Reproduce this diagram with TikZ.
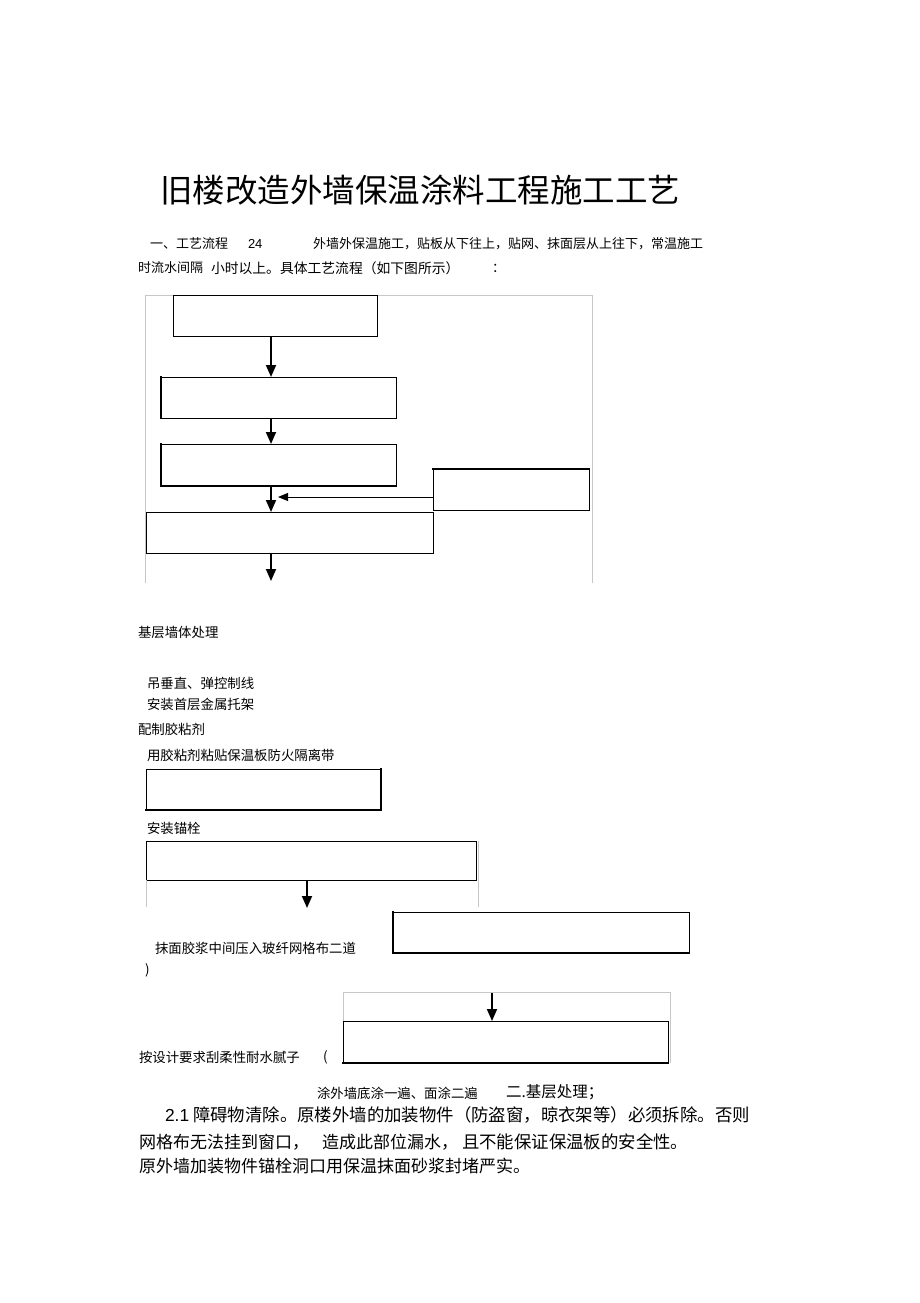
\documentclass[tikz,border=0pt]{standalone}
\usepackage{fontspec}
\setmainfont{Noto Sans CJK SC}
\newfontfamily\arialfont{Liberation Sans}
\usetikzlibrary{arrows.meta}
\newcommand\fsz[1]{\fontsize{#1}{#1}\selectfont}
\begin{document}
\begin{tikzpicture}[x=1pt,y=-1pt,
  box/.style={draw=black,line width=0.9pt,inner sep=0pt,outer sep=0pt,fill=none},
  heavy/.style={line width=2pt,line cap=rect},
  frame/.style={draw=black!22,line width=0.8pt},
  arr/.style={line width=1.8pt,-{Triangle[width=10pt,length=12pt]}},
  txt/.style={anchor=west,inner sep=0pt,outer sep=0pt,font=\fsz{13.4}},
]
\useasboundingbox[fill=white] (0,0) rectangle (920,1303);

% title
\node[anchor=west,inner sep=0pt,font=\fsz{32.5}] (title) at (160,190) {旧楼改造外墙保温涂料工程施工工艺};

% intro lines
\node[txt,font=\fsz{13}] (l1a) at (150,244) {一、工艺流程};
\node[txt,font=\arialfont\fsz{13}] (l1b) at (248,244) {24};
\node[txt,font=\fsz{13}] (l1c) at (313,244) {外墙外保温施工，贴板从下往上，贴网、抹面层从上往下，常温施工};
\node[txt,font=\fsz{13}] (l2a) at (138,268) {时流水间隔};
\node[txt,font=\fsz{13.8}] (l2b) at (211,268) {小时以上。具体工艺流程（如下图所示）};
\node[txt,font=\fsz{13}] (l2c) at (492,268) {：};

% first flowchart frame
\coordinate (f1a) at (145,583);
\coordinate (f1b) at (145,295);
\coordinate (f1c) at (592,295);
\coordinate (f1d) at (592,583);
\draw[frame] (f1a) -- (f1b) -- (f1c) -- (f1d);

\node[box,minimum width=204pt,minimum height=41pt] (b1) at (275,315.5) {};
\node[box,minimum width=235pt,minimum height=41pt] (b2) at (278.5,397.5) {};
\node[box,minimum width=235pt,minimum height=42pt] (b3) at (278.5,465) {};
\node[box,minimum width=156pt,minimum height=41pt] (bs) at (511,489.5) {};
\node[box,minimum width=287pt,minimum height=41pt] (b4) at (289.5,532.5) {};
\draw[heavy] (b2.north west) -- (b2.south west);
\draw[heavy] (b3.north west) -- (b3.south west) -- (b3.south east);
\draw[heavy] (bs.north west) -- (bs.north east);

\coordinate (ax) at (271,0);
\coordinate (sy) at (278,497);
\coordinate (e4) at (271,581);
\draw[arr] (b1.south -| ax) -- (b2.north -| ax);
\draw[arr] (b2.south -| ax) -- (b3.north -| ax);
\draw[arr] (b3.south -| ax) -- (b4.north -| ax);
\draw[line width=1pt,-{Triangle[width=8pt,length=10pt]}] (bs.west |- sy) -- (sy);
\draw[arr] (b4.south -| ax) -- (e4);

% step texts
\node[txt] (t1) at (138,632) {基层墙体处理};
\node[txt] (t2) at (147,683) {吊垂直、弹控制线};
\node[txt] (t3) at (147,704) {安装首层金属托架};
\node[txt] (t4) at (138,729) {配制胶粘剂};
\node[txt] (t5) at (147,755) {用胶粘剂粘贴保温板防火隔离带};

\node[box,minimum width=235pt,minimum height=41pt] (b5) at (263.5,789.5) {};
\draw[heavy] (b5.south west) -- (b5.south east) -- (b5.north east);

\node[txt] (t6) at (147,828) {安装锚栓};

% box 6 with frame
\node[box,minimum width=330pt,minimum height=39pt] (b6) at (311,860.5) {};
\coordinate (f2a) at (146,907);
\coordinate (f2b) at (478,841);
\coordinate (f2c) at (478,907);
\draw[frame] (b6.south west) -- (f2a);
\draw[frame] (f2b) -- (f2c);
\coordinate (e6) at (307,908);
\draw[arr] (b6.south -| e6) -- (e6);

\node[box,minimum width=296pt,minimum height=41pt] (b7) at (541,932.5) {};
\draw[heavy] (b7.north west) -- (b7.south west) -- (b7.south east);

\node[txt] (t7) at (155,948) {抹面胶浆中间压入玻纤网格布二道};
\node[txt] (t8) at (145,970) {)};

% box 8 with frame
\coordinate (f3a) at (343,1021);
\coordinate (f3b) at (343,992);
\coordinate (f3c) at (670,992);
\coordinate (f3d) at (670,1063);
\draw[frame] (f3a) -- (f3b) -- (f3c) -- (f3d);
\node[box,minimum width=325pt,minimum height=42pt] (b8) at (505.5,1042) {};
\draw[heavy] (b8.south west) -- (b8.south east);
\coordinate (s8) at (492,993);
\draw[arr] (s8) -- (b8.north -| s8);

\node[txt] (t9) at (139,1057) {按设计要求刮柔性耐水腻子};
\node[txt] (t10) at (323,1057) {(};

% bottom paragraph
\node[txt,font=\fsz{13.4}] (t11) at (317,1093) {涂外墙底涂一遍、面涂二遍};
\node[txt,font=\fsz{15.5}] (t12) at (506,1092) {二.基层处理；};
\node[txt,font=\fsz{17.4}] (p1) at (165,1115) {{\arialfont 2.1} 障碍物清除。原楼外墙的加装物件（防盗窗，晾衣架等）必须拆除。否则};
\node[txt,font=\fsz{17}] (p2a) at (139,1142) {网格布无法挂到窗口，};
\node[txt,font=\fsz{17}] (p2b) at (322,1142) {造成此部位漏水，};
\node[txt,font=\fsz{17.4}] (p2c) at (462,1142) {且不能保证保温板的安全性。};
\node[txt,font=\fsz{17}] (p3) at (139,1166) {原外墙加装物件锚栓洞口用保温抹面砂浆封堵严实。};
\end{tikzpicture}
\end{document}
